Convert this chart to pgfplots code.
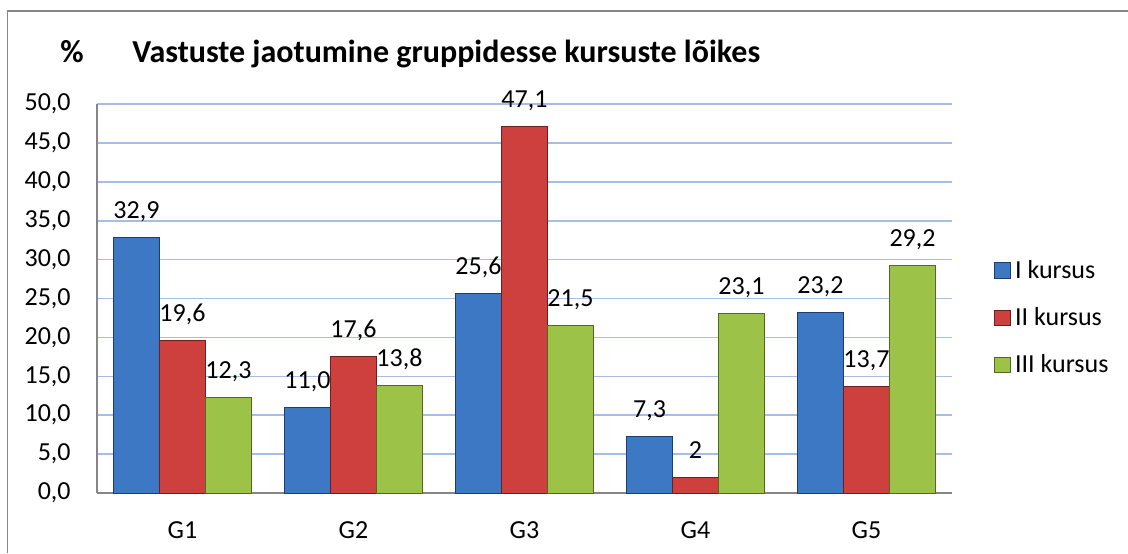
\documentclass[border=0pt]{standalone}
\usepackage{pgfplots}
\pgfplotsset{compat=1.18}
\usepackage{pgfplotstable}
\usepackage{fontspec}
\setmainfont{Carlito}

\definecolor{blueM}{RGB}{60,120,196}
\definecolor{blueD}{RGB}{30,60,110}
\definecolor{redM}{RGB}{206,64,62}
\definecolor{redD}{RGB}{110,30,30}
\definecolor{greenM}{RGB}{156,194,72}
\definecolor{greenD}{RGB}{80,105,35}
\definecolor{gridblue}{RGB}{166,190,230}
\definecolor{framegray}{RGB}{134,134,134}

\pgfplotstableread{
x I II III lI lII lIII
0 32.9 19.6 12.3 32,9 19,6 12,3
1 11.0 17.6 13.8 11,0 17,6 13,8
2 25.6 47.1 21.5 25,6 47,1 21,5
3 7.3 2 23.1 7,3 2 23,1
4 23.2 13.7 29.2 23,2 13,7 29,2
}\datatable

\pgfplotsset{
  mylegend/.style={legend image code/.code={\draw[##1, line width=0.4pt] (0pt,-3.9pt) rectangle (8pt,3.9pt);}}
}

\begin{document}
\begin{tikzpicture}
\useasboundingbox (0,0) rectangle (564pt,276.5pt);
\draw[framegray, line width=0.75pt] (3.75pt,0) -- (3.75pt,271pt) -- (564pt,271pt);
\node[anchor=base west, font=\fontsize{16}{18}\selectfont\bfseries, inner sep=0pt] at (30pt,245pt) {\%};
\node[anchor=base west, font=\fontsize{16}{18}\selectfont\bfseries, inner sep=0pt] at (66pt,245pt) {Vastuste jaotumine gruppidesse kursuste lõikes};
\begin{axis}[
  at={(48.5pt,30pt)}, anchor=south west,
  width=427.5pt, height=194.5pt, scale only axis,
  ybar=0pt, bar width=23pt,
  xmin=-0.5, xmax=4.5, ymin=0, ymax=50,
  xtick={0,1,2,3,4}, xticklabels={G1,G2,G3,G4,G5},
  ytick={0,5,...,50},
  /pgf/number format/.cd, fixed, fixed zerofill, precision=1, use comma, assume math mode=true,
  /pgfplots/.cd,
  ymajorgrids, grid style={gridblue, line width=0.8pt},
  axis x line*=bottom, axis y line*=left,
  axis line style={framegray, line width=0.8pt, -},
  tick style={draw=none},
  ticklabel style={font=\fontsize{13}{15}\selectfont},
  yticklabel style={anchor=east, inner sep=0pt, xshift=-13pt},
  xticklabel style={anchor=north, inner sep=0pt, yshift=-10pt},
  clip=false,
  nodes near coords, point meta=explicit symbolic,
  every node near coord/.append style={font=\fontsize{13}{15}\selectfont, anchor=base, inner sep=0pt, yshift=9.5pt, text=black},
  legend style={at={(1.049,0.61)}, anchor=north west, draw=none, fill=none,
    font=\fontsize{13}{15}\selectfont, row sep=9pt, inner sep=0pt,
    cells={anchor=west}},
]
\addplot[draw=blueD, line width=0.4pt, fill=blueM, mylegend]
  table[x=x, y=I, meta=lI] {\datatable};
\addplot[draw=redD, line width=0.4pt, fill=redM, mylegend]
  table[x=x, y=II, meta=lII] {\datatable};
\addplot[draw=greenD, line width=0.4pt, fill=greenM, mylegend]
  table[x=x, y=III, meta=lIII] {\datatable};
\legend{I kursus, II kursus, III kursus}
\end{axis}
\end{tikzpicture}
\end{document}
